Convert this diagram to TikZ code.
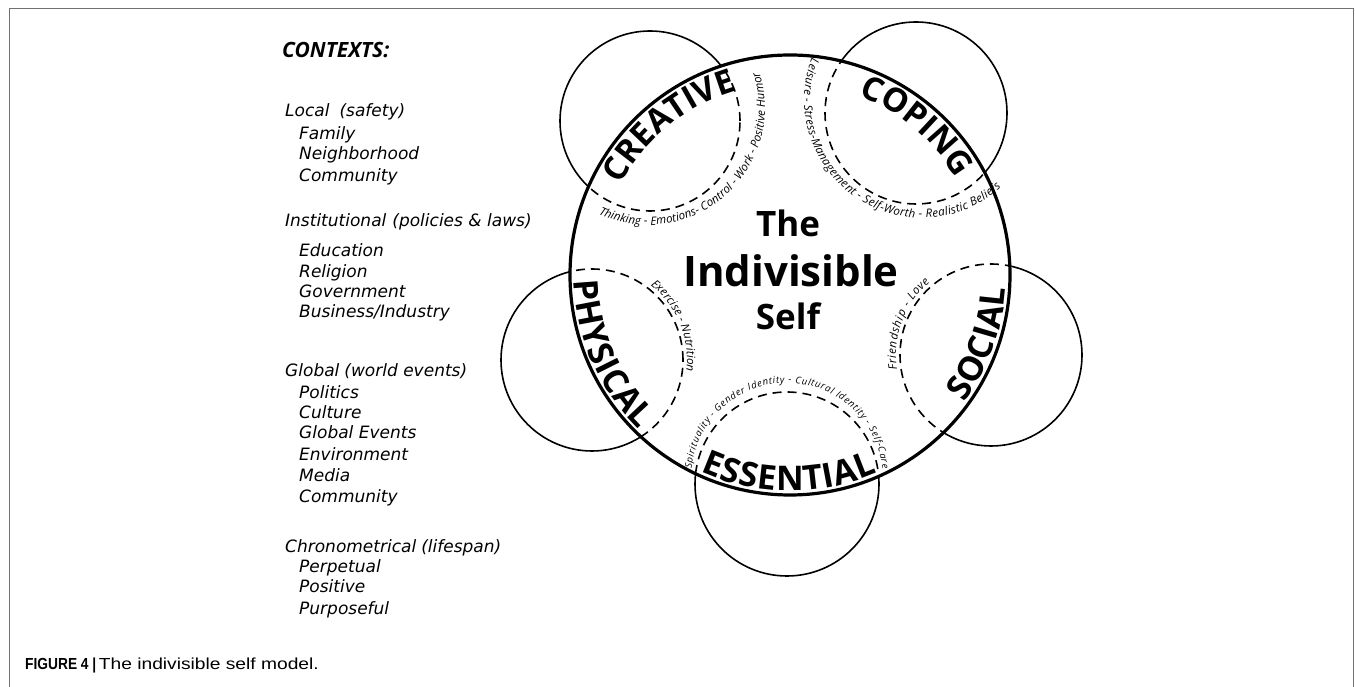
\documentclass[tikz,border=0pt]{standalone}
\usepackage{fontspec}
\setmainfont{Open Sans}
\newfontfamily\osans{Open Sans}
\newfontfamily\dvsans{DejaVu Sans}
\newfontfamily\capreg[FakeStretch=1.2]{Liberation Sans}
\newfontfamily\capbold[FakeStretch=0.86]{Liberation Sans}
\usetikzlibrary{decorations.text}
\definecolor{framegray}{RGB}{112,112,112}
\newcommand\bigwfont{\osans\bfseries\fontsize{34}{34}\selectfont}
\newcommand\bigtfont{\osans\bfseries\fontsize{33}{33}\selectfont}
\newcommand\lblfont{\osans\itshape\fontsize{11.5}{12}\selectfont}
\newcommand\lblsmall{\osans\itshape\fontsize{9.5}{11}\selectfont}
\begin{document}
\begin{tikzpicture}[x=1pt,y=1pt,
  bigcirc/.style={line width=3.2pt},
  smallcirc/.style={line width=1.6pt},
  dashcirc/.style={line width=1.6pt, dash pattern=on 9pt off 6pt},
  framec/.style={line width=1.8pt, draw=framegray},
  bigword/.style={decorate, decoration={text along path, text align={fit to path}, text={|\bigwfont|#1}}},
  bigtop/.style={decorate, decoration={text along path, text align={fit to path}, text={|\bigtfont|#1}}},
  lblword/.style={decorate, decoration={text along path, text align={fit to path}, text={|\lblfont|#1}}},
  lblsm/.style={decorate, decoration={text along path, text align={fit to path}, text={|\lblsmall|#1}}},
  ctext/.style={anchor=base, inner sep=0pt, font=\osans\bfseries\fontsize{35}{35}\selectfont},
  ctxh/.style={anchor=base west, inner sep=0pt, font=\dvsans\itshape\fontsize{17}{20}\selectfont},
]
\useasboundingbox (0,0) rectangle (1355,687);
\draw[framec] (9.5,0) -- (9.5,678.5) -- (1353.5,678.5) -- (1353.5,0);

\coordinate (C) at (790,412);
\coordinate (cre) at (650,566);
\coordinate (cop) at (916,574);
\coordinate (phy) at (592,327);
\coordinate (soc) at (991,332);
\coordinate (ess) at (787,203);
\coordinate (creL) at (648,579);
\coordinate (copL) at (922,587);
\coordinate (essL) at (787,208);

% solid parts of the small circles (outside the big circle)
\begin{scope}
  \clip (0,0) -- (0,687) -- (1355,687) -- (1355,0) -- cycle (C) circle[radius=220];
  \draw[smallcirc] (cre) circle[radius=90] (cop) circle[radius=91] (phy) circle[radius=91] (soc) circle[radius=91] (ess) circle[radius=92];
\end{scope}
% dashed parts (inside the big circle)
\begin{scope}
  \clip (C) circle[radius=220];
  \draw[dashcirc] (cre) circle[radius=90];
  \draw[dashcirc] (cop) circle[radius=91];
  \draw[dashcirc] (phy) circle[radius=91];
  \draw[dashcirc] (soc) circle[radius=91];
  \draw[dashcirc] (ess) circle[radius=92];
\end{scope}
\draw[bigcirc] (C) circle[radius=220];

% big words
\path[bigtop=CREATIVE] ([shift={(152:192)}]C) arc[start angle=152, end angle=107.5, radius=192];
\path[bigtop=COPING] ([shift={(69:192)}]C) arc[start angle=69, end angle=32, radius=192];
\path[bigword=PHYSICAL] ([shift={(181.5:216)}]C) arc[start angle=181.5, end angle=225.6, radius=216];
\path[bigword=SOCIAL] ([shift={(-36:216)}]C) arc[start angle=-36, end angle=-3.5, radius=216];
\path[bigword=ESSENTIAL] ([shift={(-114.4:216)}]C) arc[start angle=-114.4, end angle=-66.2, radius=216];

% labels along the dashed arcs
\path[lblword={Thinking - Emotions- Control - Work - Positive Humor}] ([shift={(245:117)}]creL) arc[start angle=245, end angle=378, radius=117];
\path[lblword={Leisure - Stress-Management - Self-Worth - Realistic Beliefs}] ([shift={(159:118)}]copL) arc[start angle=159, end angle=312, radius=118];
\path[lblword={Exercise - Nutrition}] ([shift={(52:95)}]phy) arc[start angle=52, end angle=-7, radius=95];
\path[lblword={Friendship - Love}] ([shift={(189:95)}]soc) arc[start angle=189, end angle=130, radius=95];
\path[lblsm={Spirituality - Gender Identity - Cultural Identity - Self-Care}] ([shift={(174:96)}]essL) arc[start angle=174, end angle=6, radius=96];

% centre title
\node[ctext] (the) at (788,450) {The};
\node[ctext, font=\osans\bfseries\fontsize{42}{42}\selectfont] (indiv) at (791,400) {Indivisible};
\node[ctext] (self) at (788,357) {Self};

% contexts list
\node[anchor=base west, inner sep=0pt, font=\osans\bfseries\itshape\fontsize{21}{24}\selectfont] (ctx) at (282,629) {CONTEXTS:};
\node[ctxh] (loc) at (285,570) {Local\hspace{10pt}(safety)};
\node[ctxh] (fam) at (299,547) {Family};
\node[ctxh] (nei) at (299,527) {Neighborhood};
\node[ctxh] (com1) at (299,505) {Community};
\node[ctxh] (ins) at (285,460) {Institutional\hspace{6pt}(policies \& laws)};
\node[ctxh] (edu) at (299,430) {Education};
\node[ctxh] (rel) at (299,409) {Religion};
\node[ctxh] (gov) at (299,389) {Government};
\node[ctxh] (bus) at (299,369) {Business/Industry};
\node[ctxh] (glo) at (285,310) {Global\hspace{5pt}(world events)};
\node[ctxh] (pol) at (299,288) {Politics};
\node[ctxh] (cul) at (299,268) {Culture};
\node[ctxh] (gev) at (299,248) {Global Events};
\node[ctxh] (env) at (299,226) {Environment};
\node[ctxh] (med) at (299,205) {Media};
\node[ctxh] (com2) at (299,184) {Community};
\node[ctxh] (chr) at (285,134) {Chronometrical\hspace{5pt}(lifespan)};
\node[ctxh] (per) at (299,114) {Perpetual};
\node[ctxh] (pos) at (299,94) {Positive};
\node[ctxh] (pur) at (299,72) {Purposeful};

% caption
\node[anchor=base west, inner sep=0pt] (cap) at (25,17) {{\capbold\bfseries\fontsize{16}{18}\selectfont FIGURE 4 |} {\capreg\fontsize{16}{18}\selectfont The indivisible self model.}};
\end{tikzpicture}
\end{document}
